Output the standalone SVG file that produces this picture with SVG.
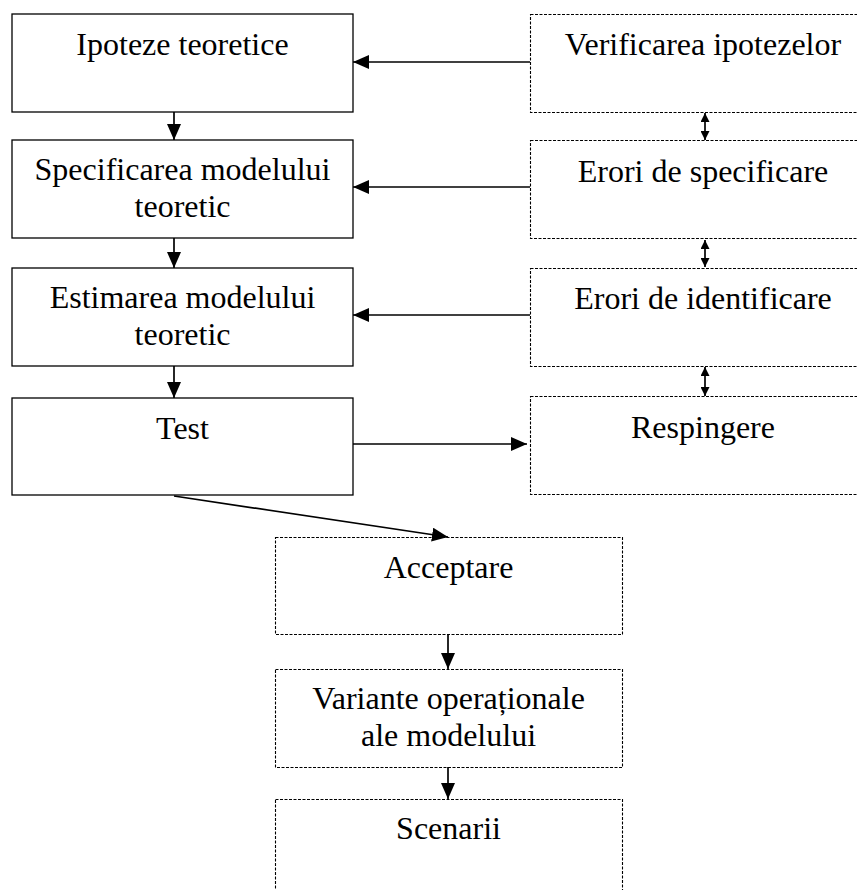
<svg xmlns="http://www.w3.org/2000/svg" width="857" height="890" viewBox="0 0 857 890">
<style>
.solid{fill:#fff;stroke:#000;stroke-width:1.3}
.dash{fill:#fff;stroke:#000;stroke-width:1.1;stroke-dasharray:3,1.5}
text{font-family:"Liberation Serif","Times New Roman",serif;font-size:32px;fill:#000;text-anchor:middle}
.ln{stroke:#000;stroke-width:1.7;fill:none}
</style>
<defs>
<marker id="ah" viewBox="0 0 16 14" refX="16" refY="7" markerWidth="16" markerHeight="14" markerUnits="userSpaceOnUse" orient="auto">
<path d="M0,0 L16,7 L0,14 Z" fill="#000"/>
</marker>
<marker id="sh" viewBox="0 0 9 9" refX="9" refY="4.5" markerWidth="9" markerHeight="9" markerUnits="userSpaceOnUse" orient="auto-start-reverse">
<path d="M0,0 L9,4.5 L0,9 Z" fill="#000"/>
</marker>
</defs>
<rect width="857" height="890" fill="#fff"/>
<g id="n-ipoteze"><rect class="solid" x="12" y="14" width="341" height="98"/><text x="182.5" y="55">Ipoteze teoretice</text></g>
<g id="n-specificarea"><rect class="solid" x="12" y="140" width="341" height="98"/><text x="182.5" y="180">Specificarea modelului</text><text x="182.5" y="216.5">teoretic</text></g>
<g id="n-estimarea"><rect class="solid" x="12" y="268" width="341" height="98"/><text x="182.5" y="308">Estimarea modelului</text><text x="182.5" y="344.5">teoretic</text></g>
<g id="n-test"><rect class="solid" x="12" y="398" width="341" height="97"/><text x="182.5" y="439">Test</text></g>
<g id="n-verificarea"><rect class="dash" x="530.5" y="14.5" width="348" height="98"/><text x="703" y="55">Verificarea ipotezelor</text></g>
<g id="n-erori-spec"><rect class="dash" x="530.5" y="140.5" width="348" height="98"/><text x="703" y="182">Erori de specificare</text></g>
<g id="n-erori-ident"><rect class="dash" x="530.5" y="268.5" width="348" height="98"/><text x="703" y="309">Erori de identificare</text></g>
<g id="n-respingere"><rect class="dash" x="530.5" y="396.5" width="348" height="98"/><text x="703" y="438">Respingere</text></g>
<g id="n-acceptare"><rect class="dash" x="275.5" y="537.5" width="347" height="97"/><text x="448.5" y="578">Acceptare</text></g>
<g id="n-variante"><rect class="dash" x="275.5" y="669.5" width="347" height="98"/><text x="448.5" y="709">Variante operaționale</text><text x="448.5" y="745.5">ale modelului</text></g>
<g id="n-scenarii"><rect class="dash" x="275.5" y="799.5" width="347" height="98"/><text x="448.5" y="839">Scenarii</text></g>
<g id="connectors">
<line class="ln" x1="174" y1="112" x2="174" y2="140" marker-end="url(#ah)"/>
<line class="ln" x1="174" y1="238" x2="174" y2="268" marker-end="url(#ah)"/>
<line class="ln" x1="174" y1="366" x2="174" y2="398" marker-end="url(#ah)"/>
<line class="ln" x1="530" y1="62" x2="353" y2="62" marker-end="url(#ah)"/>
<line class="ln" x1="530" y1="187" x2="353" y2="187" marker-end="url(#ah)"/>
<line class="ln" x1="530" y1="315" x2="353" y2="315" marker-end="url(#ah)"/>
<line class="ln" x1="353" y1="444" x2="527" y2="444" marker-end="url(#ah)"/>
<line class="ln" x1="174" y1="496" x2="448" y2="537" marker-end="url(#ah)"/>
<line class="ln" x1="448" y1="634" x2="448" y2="669" marker-end="url(#ah)"/>
<line class="ln" x1="448" y1="767" x2="448" y2="799" marker-end="url(#ah)"/>
<line class="ln" x1="705" y1="113" x2="705" y2="140" marker-start="url(#sh)" marker-end="url(#sh)"/>
<line class="ln" x1="705" y1="240" x2="705" y2="267" marker-start="url(#sh)" marker-end="url(#sh)"/>
<line class="ln" x1="705" y1="367" x2="705" y2="396" marker-start="url(#sh)" marker-end="url(#sh)"/>
</g>
</svg>
